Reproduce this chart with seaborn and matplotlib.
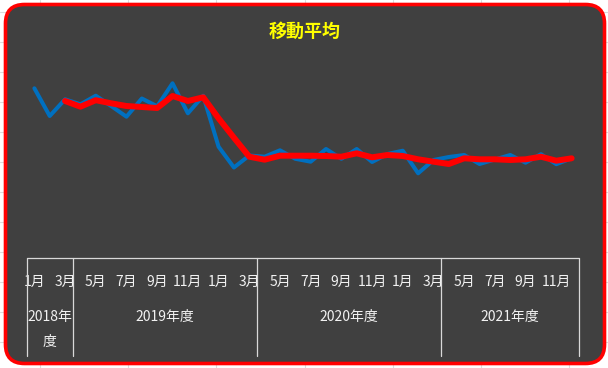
import matplotlib
matplotlib.use("Agg")
import matplotlib.pyplot as plt
import matplotlib.transforms as mtransforms
from matplotlib.patches import FancyBboxPatch
import seaborn as sns
import pandas as pd

# ---------------- data ----------------
month_labels = ["1月", "2月", "3月",
                "4月", "5月", "6月", "7月", "8月", "9月", "10月", "11月", "12月", "1月", "2月", "3月",
                "4月", "5月", "6月", "7月", "8月", "9月", "10月", "11月", "12月", "1月", "2月", "3月",
                "4月", "5月", "6月", "7月", "8月", "9月", "10月", "11月", "12月"]
fiscal_years = ["2018年\n度", "2019年度", "2020年度", "2021年度"]
fiscal_year_months = [3, 12, 12, 9]

actual = [169.7, 142.0, 158.7, 153.7, 162.3, 152.0, 141.3, 159.5, 151.7, 174.7, 144.7, 162.2,
          111.3, 90.5, 102.5, 101.3, 107.7, 99.2, 96.3, 109.0, 99.2, 109.0, 96.0, 104.0,
          107.3, 84.7, 98.0, 101.0, 103.0, 94.0, 98.5, 103.0, 95.3, 103.8, 93.8, 99.7]
moving_avg = [None, None, 157.0, 151.3, 157.8, 154.7, 152.0, 151.0, 150.0, 162.0, 157.0, 160.7,
              139.7, 120.3, 101.3, 98.3, 102.3, 102.3, 102.3, 102.0, 101.3, 104.7, 100.7, 103.0,
              102.0, 98.7, 96.3, 94.0, 99.7, 98.7, 98.7, 98.0, 98.7, 101.3, 97.3, 99.7]

df = pd.DataFrame({
    "idx": list(range(len(month_labels))),
    "month": month_labels,
    "actual": actual,
    "moving_avg": [float("nan") if v is None else v for v in moving_avg],
})

# ---------------- figure ----------------
sns.set_theme(style="white")
plt.rcParams["font.family"] = ["Noto Sans CJK JP", "DejaVu Sans"]

W, H = 608, 368
fig = plt.figure(figsize=(W / 100, H / 100), dpi=100)
fig.patch.set_facecolor("white")

# background axes in pixel coordinates
bg = fig.add_axes([0, 0, 1, 1])
bg.set_xlim(0, W)
bg.set_ylim(H, 0)
bg.axis("off")

# spreadsheet grid behind the chart
for yy in [11.7 + 30 * k for k in range(12)]:
    bg.plot([0, W], [yy, yy], color="#DCDCDC", lw=0.8, zorder=0)
for xx in [40 + 88.2 * k for k in range(7)]:
    bg.plot([xx, xx], [0, H], color="#DCDCDC", lw=0.8, zorder=0)

chart_bg = FancyBboxPatch((5.5, 4.5), 599, 359,
                          boxstyle="round,pad=0,rounding_size=19",
                          facecolor="#404040", edgecolor="#FF0000", linewidth=2.6, zorder=1)
bg.add_patch(chart_bg)

bg.text(304.5, 31.5, "移動平均", color="#FFFF00", fontsize=13, fontweight="bold",
        ha="center", va="center", zorder=3)

# plot axes
px_left, px_right, px_top, px_bottom = 26.7, 579.3, 45, 258
ax = fig.add_axes([px_left / W, 1 - px_bottom / H, (px_right - px_left) / W, (px_bottom - px_top) / H])
ax.set_facecolor("none")
n = len(month_labels)
ax.set_xlim(-0.5, n - 0.5)
ax.set_ylim(0, px_bottom - px_top)

sns.lineplot(data=df, x="idx", y="actual", ax=ax, color="#0070C0", linewidth=2.9,
             solid_capstyle="round", solid_joinstyle="round", zorder=3)
sns.lineplot(data=df, x="idx", y="moving_avg", ax=ax, color="#FF0000", linewidth=4.3,
             solid_capstyle="round", solid_joinstyle="round", zorder=4)

for s in ax.spines.values():
    s.set_visible(False)
ax.set_xticks([])
ax.set_yticks([])
ax.set_xlabel("")
ax.set_ylabel("")

# multi-level category axis
trans = mtransforms.blended_transform_factory(ax.transData, bg.transData)
line_col = "#D9D9D9"
text_col = "#F2F2F2"
table_top, table_bottom = 258, 356

bg.plot([px_left, px_right], [table_top, table_top], color=line_col, lw=0.9, zorder=3)

for i in range(0, n, 2):
    bg.text(i, 282, month_labels[i], transform=trans, color=text_col, fontsize=10,
            ha="center", va="center", zorder=3)

start = 0
bounds = [-0.5]
for fyl, cnt in zip(fiscal_years, fiscal_year_months):
    end = start + cnt
    bounds.append(end - 0.5)
    center = (start + end - 1) / 2
    if "\n" in fyl:
        top, bot = fyl.split("\n")
        bg.text(center, 317, top, transform=trans, color=text_col, fontsize=10,
                ha="center", va="center", zorder=3)
        bg.text(center, 342, bot, transform=trans, color=text_col, fontsize=10,
                ha="center", va="center", zorder=3)
    else:
        bg.text(center, 317, fyl, transform=trans, color=text_col, fontsize=10,
                ha="center", va="center", zorder=3)
    start = end

for b in bounds:
    bg.plot([b, b], [table_top, table_bottom], transform=trans, color=line_col, lw=0.9, zorder=3)

fig.savefig("out.png", dpi=100, facecolor="white")
